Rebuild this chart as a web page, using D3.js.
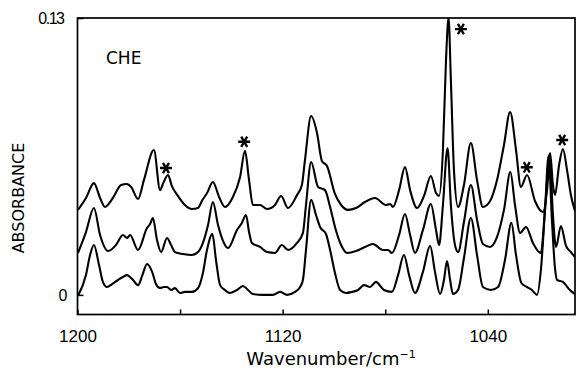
<!DOCTYPE html>
<html>
<head>
<meta charset="utf-8">
<script src="https://cdn.jsdelivr.net/npm/d3@7"></script>
<style>
body { margin: 0; background: #fff; }
svg { display: block; font-family: "DejaVu Sans", sans-serif; }
</style>
</head>
<body>
<div id="chart"></div>
<script>
// Données : [nombre d'onde (cm-1), absorbance]
const spectreHaut = [
  [1199.8, 0.0399], [1196.7, 0.0455], [1193.6, 0.0525], [1191.2, 0.0455], [1189.3, 0.0413],
  [1186.2, 0.0455], [1183.0, 0.0516], [1180.8, 0.0521], [1179.1, 0.0507], [1176.4, 0.0450],
  [1174.1, 0.0539], [1170.2, 0.0680], [1167.8, 0.0492], [1166.7, 0.0521], [1164.7, 0.0563],
  [1163.2, 0.0511], [1160.8, 0.0464], [1158.1, 0.0422], [1155.4, 0.0403], [1153.0, 0.0408],
  [1151.5, 0.0441], [1149.5, 0.0478], [1147.2, 0.0530], [1144.8, 0.0460], [1142.5, 0.0413],
  [1139.4, 0.0460], [1136.6, 0.0554], [1134.7, 0.0676], [1133.1, 0.0539], [1131.6, 0.0422],
  [1128.8, 0.0422], [1126.1, 0.0403], [1123.0, 0.0422], [1120.6, 0.0464], [1117.9, 0.0408],
  [1114.4, 0.0469], [1112.5, 0.0516], [1111.3, 0.0633], [1108.9, 0.0840], [1106.6, 0.0760],
  [1104.7, 0.0629], [1102.7, 0.0605], [1099.6, 0.0474], [1097.2, 0.0422], [1094.5, 0.0399],
  [1091.4, 0.0408], [1087.9, 0.0436], [1084.0, 0.0455], [1079.7, 0.0422], [1078.1, 0.0427],
  [1077.0, 0.0413], [1074.6, 0.0492], [1072.3, 0.0600], [1070.3, 0.0492], [1067.6, 0.0408],
  [1064.9, 0.0464], [1062.2, 0.0558], [1060.2, 0.0478], [1059.0, 0.0464], [1057.5, 0.0680],
  [1056.3, 0.1103], [1055.3, 0.1300], [1054.4, 0.1009], [1053.2, 0.0586], [1051.6, 0.0413],
  [1049.3, 0.0516], [1046.6, 0.0713], [1044.2, 0.0539], [1041.9, 0.0413], [1039.1, 0.0441],
  [1036.4, 0.0539], [1033.7, 0.0704], [1031.3, 0.0859], [1029.0, 0.0680], [1027.1, 0.0507],
  [1024.7, 0.0563], [1021.6, 0.0441], [1018.5, 0.0389], [1016.9, 0.0492], [1015.7, 0.0666],
  [1014.6, 0.0516], [1013.8, 0.0469], [1012.2, 0.0610], [1010.7, 0.0685], [1009.1, 0.0586],
  [1007.6, 0.0469], [1006.0, 0.0394]
];

const spectreMilieu = [
  [1199.8, 0.0197], [1196.7, 0.0295], [1193.6, 0.0408], [1191.2, 0.0281], [1188.1, 0.0206],
  [1185.0, 0.0234], [1182.3, 0.0281], [1180.7, 0.0267], [1179.5, 0.0281], [1176.4, 0.0211],
  [1172.9, 0.0314], [1171.7, 0.0333], [1170.6, 0.0361], [1169.0, 0.0258], [1167.4, 0.0201],
  [1165.1, 0.0267], [1163.5, 0.0234], [1162.0, 0.0201], [1158.9, 0.0192], [1155.4, 0.0187],
  [1153.0, 0.0201], [1151.1, 0.0244], [1149.1, 0.0328], [1147.2, 0.0436], [1145.2, 0.0328],
  [1142.9, 0.0244], [1141.3, 0.0220], [1137.8, 0.0305], [1135.9, 0.0338], [1134.3, 0.0375],
  [1133.1, 0.0295], [1132.0, 0.0244], [1128.8, 0.0225], [1126.1, 0.0201], [1123.0, 0.0197],
  [1120.3, 0.0234], [1117.9, 0.0211], [1114.4, 0.0244], [1112.1, 0.0291], [1110.9, 0.0422],
  [1108.9, 0.0624], [1106.2, 0.0507], [1103.5, 0.0492], [1101.5, 0.0413], [1099.6, 0.0319],
  [1097.2, 0.0234], [1094.9, 0.0197], [1091.4, 0.0206], [1087.9, 0.0225], [1084.8, 0.0239],
  [1080.9, 0.0211], [1078.9, 0.0211], [1077.4, 0.0197], [1074.6, 0.0281], [1072.3, 0.0380],
  [1070.3, 0.0281], [1068.4, 0.0197], [1065.3, 0.0305], [1062.2, 0.0427], [1060.2, 0.0305],
  [1059.0, 0.0234], [1057.5, 0.0422], [1055.7, 0.0690], [1054.4, 0.0422], [1052.8, 0.0234],
  [1051.6, 0.0201], [1049.3, 0.0342], [1046.6, 0.0516], [1044.2, 0.0352], [1041.9, 0.0239],
  [1039.1, 0.0225], [1036.4, 0.0272], [1033.7, 0.0399], [1031.2, 0.0577], [1029.4, 0.0422],
  [1027.4, 0.0291], [1025.1, 0.0319], [1022.4, 0.0244], [1019.3, 0.0197], [1017.7, 0.0399],
  [1015.9, 0.0662], [1014.6, 0.0375], [1013.4, 0.0225], [1011.5, 0.0323], [1009.5, 0.0230],
  [1007.6, 0.0201], [1006.0, 0.0178]
];

const spectreBas = [
  [1199.8, -0.0005], [1196.7, 0.0093], [1195.1, 0.0187], [1193.6, 0.0234], [1191.6, 0.0140],
  [1190.1, 0.0061], [1188.5, 0.0037], [1186.5, 0.0051], [1184.2, 0.0070], [1182.3, 0.0084],
  [1180.7, 0.0093], [1178.7, 0.0075], [1176.4, 0.0046], [1174.8, 0.0089], [1172.9, 0.0145],
  [1170.9, 0.0108], [1169.4, 0.0051], [1167.8, 0.0032], [1166.3, 0.0037], [1165.1, 0.0037],
  [1163.5, 0.0023], [1162.0, 0.0032], [1160.0, 0.0009], [1158.1, 0.0014], [1155.4, 0.0014],
  [1153.0, 0.0032], [1151.1, 0.0103], [1149.5, 0.0211], [1147.4, 0.0286], [1146.0, 0.0164],
  [1144.4, 0.0046], [1142.5, 0.0023], [1140.5, 0.0009], [1137.8, 0.0023], [1135.5, 0.0042],
  [1133.5, 0.0023], [1131.6, 0.0004], [1127.7, 0.0000], [1123.8, 0.0000], [1121.0, 0.0014],
  [1118.3, 0.0000], [1115.2, 0.0014], [1113.2, 0.0037], [1112.1, 0.0070], [1110.9, 0.0211],
  [1108.9, 0.0446], [1107.0, 0.0375], [1105.4, 0.0319], [1103.1, 0.0286], [1101.5, 0.0211],
  [1099.6, 0.0103], [1097.6, 0.0023], [1095.3, 0.0009], [1093.0, 0.0014], [1090.6, 0.0023],
  [1088.3, 0.0046], [1085.9, 0.0037], [1083.6, 0.0061], [1081.6, 0.0037], [1080.5, 0.0023],
  [1077.4, 0.0014], [1075.0, 0.0093], [1072.7, 0.0187], [1070.7, 0.0093], [1068.4, 0.0009],
  [1065.3, 0.0108], [1062.5, 0.0230], [1060.6, 0.0108], [1058.6, 0.0004], [1057.1, 0.0070],
  [1055.9, 0.0159], [1054.7, 0.0070], [1053.6, 0.0004], [1051.6, 0.0023], [1049.3, 0.0173],
  [1046.6, 0.0361], [1044.2, 0.0187], [1041.9, 0.0037], [1038.8, 0.0023], [1036.0, 0.0037],
  [1033.3, 0.0164], [1030.8, 0.0338], [1029.0, 0.0187], [1026.9, 0.0056], [1024.7, 0.0037],
  [1022.8, 0.0023], [1020.8, 0.0000], [1019.3, 0.0117], [1017.7, 0.0399], [1016.3, 0.0652],
  [1015.0, 0.0352], [1013.8, 0.0126], [1013.0, 0.0070], [1010.7, 0.0061], [1008.0, 0.0023],
  [1006.0, 0.0004]
];

// bandes marquées d'un astérisque
const asterisques = [
  [1165.5, 0.0596], [1135.0, 0.0719], [1050.5, 0.1248], [1024.8, 0.0599], [1011.0, 0.0727]
];

const ticksX = [1200, 1160, 1120, 1080, 1040];
const labelsX = [1200, 1120, 1040];
const ticksY = [0, 0.13];

// Dimensions
const width = 577, height = 372;
const margin = {top: 18, right: 2, bottom: 57.5, left: 77.5};
const graphWidth = width - margin.left - margin.right;
const graphHeight = height - margin.top - margin.bottom;

const svg = d3.select("#chart")
  .append("svg")
  .attr("width", width)
  .attr("height", height);

const x = d3.scaleLinear()
  .domain([1200, 1006])
  .range([0, graphWidth]);

const y = d3.scaleLinear()
  .domain([-0.0092, 0.13])
  .range([graphHeight, 0]);

const graph = svg.append("g")
  .attr("transform", `translate(${margin.left}, ${margin.top})`);

graph.append("clipPath")
  .attr("id", "zone")
  .append("rect")
  .attr("width", graphWidth)
  .attr("height", graphHeight);

// Axes
const axeX = d3.axisBottom(x)
  .tickValues(ticksX)
  .tickSizeInner(-5)
  .tickSizeOuter(0)
  .tickPadding(15)
  .tickFormat(d => labelsX.includes(d) ? d : "");

const axeY = d3.axisLeft(y)
  .tickValues(ticksY)
  .tickSizeInner(-6)
  .tickSizeOuter(0)
  .tickPadding(10)
  .tickFormat(d => d === 0 ? "0" : "0.13");

const groupeX = graph.append("g")
  .attr("transform", `translate(0, ${graphHeight})`)
  .call(axeX);
groupeX.select(".domain").remove();
groupeX.selectAll("text").style("font-size", "17px").attr("fill", "#000");
groupeX.selectAll("line").attr("stroke", "#000").attr("stroke-width", 1.5);

const groupeY = graph.append("g").call(axeY);
groupeY.select(".domain").remove();
groupeY.selectAll("text")
  .style("font-size", "16px")
  .attr("fill", "#000")
  .filter(d => d > 0)
  .style("letter-spacing", "-1.5px")
  .attr("dx", -4);
groupeY.selectAll("line").attr("stroke", "#000").attr("stroke-width", 1.5);

// Cadre
graph.append("rect")
  .attr("width", graphWidth)
  .attr("height", graphHeight)
  .attr("fill", "none")
  .attr("stroke", "#000")
  .attr("stroke-width", 1.7);

// Spectres
const ligne = d3.line()
  .x(d => x(d[0]))
  .y(d => y(d[1]))
  .curve(d3.curveMonotoneX);

graph.append("g")
  .attr("clip-path", "url(#zone)")
  .selectAll("path")
  .data([spectreBas, spectreMilieu, spectreHaut])
  .enter()
  .append("path")
  .attr("d", ligne)
  .attr("fill", "none")
  .attr("stroke", "#000")
  .attr("stroke-width", 2.1)
  .attr("stroke-linejoin", "round");

// Astérisques
const symbole = d3.symbol().type(d3.symbolAsterisk).size(100);
graph.selectAll(".ast")
  .data(asterisques)
  .enter()
  .append("path")
  .attr("class", "ast")
  .attr("d", symbole)
  .attr("transform", d => `translate(${x(d[0])}, ${y(d[1])}) rotate(90)`)
  .attr("fill", "none")
  .attr("stroke", "#000")
  .attr("stroke-width", 2.4);

// Textes
graph.append("text")
  .attr("x", 106 - margin.left)
  .attr("y", 64 - margin.top)
  .style("font-size", "17px")
  .text("CHE");

const titreX = svg.append("text")
  .attr("x", 331)
  .attr("y", 365)
  .attr("text-anchor", "middle")
  .style("font-size", "18px");
titreX.append("tspan").text("Wavenumber/cm");
titreX.append("tspan")
  .attr("dy", -7)
  .style("font-size", "11px")
  .text("\u22121");

svg.append("text")
  .attr("transform", "translate(24, 198) rotate(-90)")
  .attr("text-anchor", "middle")
  .style("font-size", "16px")
  .text("ABSORBANCE");
</script>
</body>
</html>
